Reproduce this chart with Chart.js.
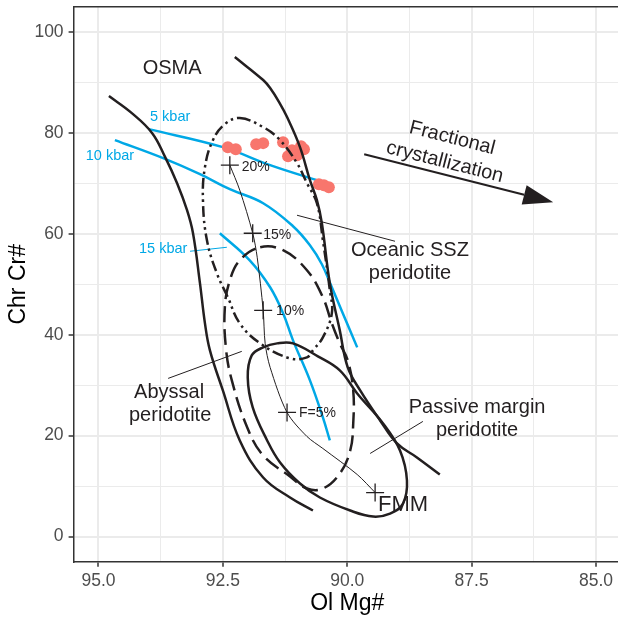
<!DOCTYPE html>
<html>
<head>
<meta charset="utf-8">
<script src="https://cdn.jsdelivr.net/npm/chart.js@4.4.0/dist/chart.umd.min.js"></script>
<style>
  html, body { margin: 0; padding: 0; background: #fff; overflow: hidden; }
  #wrap { width: 618px; height: 617px; overflow: hidden; }
  canvas { display: block; }
</style>
</head>
<body>
<div id="wrap"><canvas id="chart" width="625" height="617"></canvas></div>
<script>
// axis breaks
const xMajor = [85, 87.5, 90, 92.5, 95];
const xMajorLabels = ['85.0', '87.5', '90.0', '92.5', '95.0'];
const xMinor = [86.25, 88.75, 91.25, 93.75];
const yMajor = [0, 20, 40, 60, 80, 100];
const yMinor = [10, 30, 50, 70, 90];

// field boundaries, [Ol Mg#, Chr Cr#]
const osmaLeft = [[94.79, 87.30], [94.33, 83.93], [93.92, 79.96], [93.66, 75.20], [93.42, 70.04],
  [93.22, 64.68], [93.10, 60.12], [92.96, 50.20], [92.86, 42.26], [92.76, 36.91], [92.50, 28.97],
  [92.16, 19.05], [91.69, 11.71], [91.15, 7.74], [90.69, 5.16]];
const osmaRight = [[92.26, 95.04], [91.69, 90.48], [91.55, 88.89], [91.37, 86.11], [91.21, 83.14],
  [90.95, 77.18], [90.75, 70.64], [90.61, 66.67], [90.51, 62.10], [90.35, 50.20], [90.15, 40.87],
  [89.99, 33.53], [89.74, 28.97], [89.34, 23.02], [89.00, 18.45], [88.60, 15.68], [88.14, 12.30]];
// closed outlines (first point not repeated)
const sszField = [[92.16, 82.94], [91.69, 81.15], [91.35, 78.57], [91.01, 74.01], [90.81, 70.04],
  [90.61, 66.07], [90.49, 58.73], [90.35, 48.81], [90.31, 44.25], [90.49, 39.48], [90.69, 36.91],
  [90.81, 35.52], [91.15, 35.32], [91.75, 38.29], [92.16, 42.26], [92.40, 47.42], [92.62, 52.18],
  [92.82, 58.73], [92.90, 66.67], [92.86, 73.22], [92.70, 78.57], [92.46, 81.75]];
const abyssalField = [[91.75, 57.34], [91.29, 56.75], [90.81, 52.78], [90.49, 47.42], [90.31, 42.26],
  [90.15, 38.29], [89.99, 34.92], [89.88, 28.97], [89.88, 22.42], [89.94, 17.06], [90.15, 12.50],
  [90.49, 9.52], [90.81, 9.52], [91.15, 11.91], [91.69, 16.07], [92.01, 21.63], [92.32, 30.95],
  [92.44, 37.50], [92.46, 45.44], [92.36, 50.79], [92.16, 54.76]];
const passiveField = [[91.41, 38.29], [91.09, 38.29], [90.59, 35.72], [90.15, 32.94], [89.80, 28.37],
  [89.28, 22.42], [88.94, 17.06], [88.80, 11.11], [88.88, 6.55], [89.14, 4.56], [89.48, 3.97],
  [89.94, 5.16], [90.55, 7.74], [90.95, 10.52], [91.35, 14.68], [91.61, 19.05], [91.90, 25.60],
  [92.00, 31.55], [91.92, 35.91], [91.69, 37.50]];

// melting trends at different pressures
const kbar5 = [[93.99, 80.75], [92.50, 77.18], [91.55, 73.61], [90.55, 70.44]];
const kbar10 = [[94.67, 78.57], [93.70, 75.00], [92.96, 71.83], [92.36, 68.85], [91.69, 66.07],
  [91.09, 61.51], [90.75, 57.74], [90.51, 53.97], [90.31, 49.41], [90.09, 44.25], [89.80, 37.50]];
const kbar15 = [[92.56, 60.12], [91.96, 54.76], [91.55, 49.41], [91.29, 44.25], [91.09, 38.89],
  [90.75, 30.95], [90.49, 23.61], [90.35, 19.05]];

// FMM partial melting path and its marks
const meltPath = [[89.44, 8.73], [89.80, 12.30], [90.49, 17.46], [90.81, 19.84], [91.21, 24.60],
  [91.55, 33.53], [91.65, 38.29], [91.69, 44.84], [91.81, 55.36], [91.90, 60.12], [92.16, 68.65],
  [92.36, 73.61]];
const meltMarks = [[92.36, 73.61], [91.90, 60.12], [91.69, 44.84], [91.21, 24.60], [89.44, 8.73]];

// chromian spinel samples
const samples = [[92.40, 77.18], [92.24, 76.78], [91.83, 77.78], [91.69, 77.98], [91.29, 78.17],
  [91.19, 75.40], [91.11, 76.59], [91.01, 75.60], [90.93, 77.38], [90.87, 76.78],
  [90.57, 69.84], [90.47, 69.64], [90.37, 69.25]];

// annotations
const fieldText = [
  { text: 'OSMA', x: 93.52, y: 92.86 },
  { text: 'Oceanic SSZ', x: 88.74, y: 56.75 },
  { text: 'peridotite', x: 88.74, y: 52.18 },
  { text: 'Abyssal', x: 93.58, y: 28.57 },
  { text: 'peridotite', x: 93.56, y: 24.01 },
  { text: 'Passive margin', x: 87.39, y: 25.60 },
  { text: 'peridotite', x: 87.39, y: 21.03 }
];
const pressureText = [
  { text: '5 kbar', x: 93.56, y: 83.14 },
  { text: '10 kbar', x: 94.77, y: 75.40 },
  { text: '15 kbar', x: 93.70, y: 56.95 }
];
const meltText = [
  { text: '20%', x: 92.12, y: 73.22 },
  { text: '15%', x: 91.69, y: 59.72 },
  { text: '10%', x: 91.43, y: 44.64 },
  { text: 'F=5%', x: 90.97, y: 24.41 }
];
const fmmText = { text: 'FMM', x: 89.38, y: 6.35 };
const leaders = [
  [[91.01, 63.69], [89.04, 58.53]],
  [[93.60, 31.35], [92.12, 36.71]],
  [[89.54, 16.47], [88.48, 22.82]]
];
const kbarLeader = [[93.16, 56.55], [92.42, 57.34]];
const trendArrow = [[89.66, 75.79], [85.86, 66.27]];
const trendText = [
  { text: 'Fractional', x: 87.89, y: 78.97 },
  { text: 'crystallization', x: 88.04, y: 74.21 }
];

const INK = '#231f20';
const BLUE = '#00a8e6';
const PINK = '#f8766d';
const FONT = "'Liberation Sans', Arial, Helvetica, sans-serif";

const toXY = pts => pts.map(([x, y]) => ({ x, y }));

function curve(pts, opts) {
  return Object.assign({
    data: toXY(pts),
    showLine: true,
    pointRadius: 0,
    pointHoverRadius: 0,
    borderColor: INK,
    borderWidth: 2.5,
    tension: 0.4,
    fill: false
  }, opts);
}

// closed smooth outline: pad with neighbours, hide the two padding segments
function ring(pts, opts) {
  const n = pts.length;
  const ds = curve([pts[n - 1], ...pts, pts[0], pts[1]], opts);
  const color = ds.borderColor;
  ds.segment = {
    borderColor: c => (c.p0DataIndex === 0 || c.p0DataIndex === n + 1) ? 'rgba(0,0,0,0)' : color
  };
  return ds;
}

const isMajor = (list, v) => list.some(m => Math.abs(m - v) < 1e-6);

// drop the label overhang Chart.js reserves so the panel sits where ggplot put it
function noPad(s) {
  s.paddingTop = 0;
  s.paddingBottom = 0;
  s.paddingLeft = 0;
  s.paddingRight = 0;
}

const annotate = {
  id: 'annotate',
  afterDatasetsDraw(chart) {
    const { ctx, chartArea, scales: { x, y } } = chart;
    const px = p => x.getPixelForValue(p.x);
    const py = p => y.getPixelForValue(p.y);

    ctx.save();
    ctx.textBaseline = 'middle';

    ctx.fillStyle = INK;
    ctx.textAlign = 'center';
    ctx.font = `20px ${FONT}`;
    fieldText.forEach(t => ctx.fillText(t.text, px(t), py(t)));

    ctx.fillStyle = BLUE;
    ctx.font = `14.5px ${FONT}`;
    pressureText.forEach(t => ctx.fillText(t.text, px(t), py(t)));

    ctx.fillStyle = INK;
    ctx.textAlign = 'left';
    ctx.font = `14px ${FONT}`;
    meltText.forEach(t => ctx.fillText(t.text, px(t), py(t)));
    ctx.font = `22px ${FONT}`;
    ctx.fillText(fmmText.text, px(fmmText), py(fmmText));

    // fractional crystallization arrow
    const [a, b] = trendArrow.map(([vx, vy]) => ({ x: x.getPixelForValue(vx), y: y.getPixelForValue(vy) }));
    const ang = Math.atan2(b.y - a.y, b.x - a.x);
    const headLen = 30, headHalf = 10;
    const bx = b.x - headLen * Math.cos(ang), by = b.y - headLen * Math.sin(ang);
    ctx.strokeStyle = INK;
    ctx.lineWidth = 2;
    ctx.beginPath();
    ctx.moveTo(a.x, a.y);
    ctx.lineTo(bx, by);
    ctx.stroke();
    ctx.beginPath();
    ctx.moveTo(b.x, b.y);
    ctx.lineTo(bx + headHalf * Math.sin(ang), by - headHalf * Math.cos(ang));
    ctx.lineTo(bx - headHalf * Math.sin(ang), by + headHalf * Math.cos(ang));
    ctx.closePath();
    ctx.fillStyle = INK;
    ctx.fill();

    ctx.textAlign = 'center';
    ctx.font = `20px ${FONT}`;
    trendText.forEach(t => {
      ctx.save();
      ctx.translate(px(t), py(t));
      ctx.rotate(ang);
      ctx.fillText(t.text, 0, 0);
      ctx.restore();
    });

    // panel border top
    ctx.strokeStyle = '#333333';
    ctx.lineWidth = 1.5;
    ctx.beginPath();
    ctx.moveTo(chartArea.left, chartArea.top);
    ctx.lineTo(chartArea.right + 2, chartArea.top);
    ctx.stroke();
    ctx.restore();
  }
};

const datasets = [
  {
    data: toXY(meltMarks),
    pointStyle: 'cross',
    pointRadius: 9,
    pointHoverRadius: 9,
    borderColor: INK,
    borderWidth: 1.3,
    showLine: false
  },
  curve(meltPath, { borderWidth: 1, tension: 0.3 }),
  ...leaders.map(l => curve(l, { borderWidth: 1, tension: 0 })),
  curve(osmaLeft),
  curve(osmaRight),
  ring(sszField, { borderDash: [11, 4, 2.5, 4, 2.5, 4] }),
  ring(abyssalField, { borderDash: [16, 7] }),
  ring(passiveField),
  {
    data: toXY(samples),
    pointRadius: 6,
    pointHoverRadius: 6,
    backgroundColor: PINK,
    borderWidth: 0,
    showLine: false
  },
  curve(kbarLeader, { borderColor: BLUE, borderWidth: 1, tension: 0 }),
  curve(kbar5, { borderColor: BLUE }),
  curve(kbar10, { borderColor: BLUE }),
  curve(kbar15, { borderColor: BLUE })
];

const tickFont = { family: FONT, size: 17.5 };
const titleFont = { family: FONT, size: 23 };

new Chart(document.getElementById('chart'), {
  type: 'scatter',
  data: { datasets },
  options: {
    responsive: false,
    animation: false,
    events: [],
    // no extra room for point overflow, the panel edges are fixed below
    layout: { autoPadding: false, padding: { top: 6.8, right: 4.1, left: 0, bottom: 0 } },
    plugins: { legend: { display: false }, tooltip: { enabled: false } },
    scales: {
      x: {
        type: 'linear',
        reverse: true,
        min: 84.5,
        max: 95.5,
        afterBuildTicks: s => { s.ticks = [...xMajor, ...xMinor].sort((p, q) => p - q).map(v => ({ value: v })); },
        afterFit: s => { s.height = 55.2; noPad(s); },
        ticks: {
          autoSkip: false,
          maxRotation: 0,
          padding: 4,
          color: '#4d4d4d',
          font: tickFont,
          callback: v => { const i = xMajor.findIndex(m => Math.abs(m - v) < 1e-6); return i >= 0 ? xMajorLabels[i] : ''; }
        },
        grid: {
          color: '#ebebeb',
          lineWidth: c => isMajor(xMajor, c.tick.value) ? 2 : 1,
          tickColor: c => isMajor(xMajor, c.tick.value) ? '#333333' : 'rgba(0,0,0,0)',
          tickWidth: 1.5,
          tickLength: 5
        },
        border: { display: true, color: '#333333', width: 1.5 },
        title: { display: true, text: 'Ol Mg#', color: '#000', font: titleFont, padding: { top: 1, bottom: 0 } }
      },
      y: {
        type: 'linear',
        min: -5,
        max: 105,
        afterBuildTicks: s => { s.ticks = [...yMajor, ...yMinor].sort((p, q) => p - q).map(v => ({ value: v })); },
        afterFit: s => { s.width = 73.6; noPad(s); },
        ticks: {
          autoSkip: false,
          padding: 5,
          color: '#4d4d4d',
          font: tickFont,
          callback: v => isMajor(yMajor, v) ? String(v) : ''
        },
        grid: {
          color: '#ebebeb',
          lineWidth: c => isMajor(yMajor, c.tick.value) ? 2 : 1,
          tickColor: c => isMajor(yMajor, c.tick.value) ? '#333333' : 'rgba(0,0,0,0)',
          tickWidth: 1.5,
          tickLength: 5
        },
        border: { display: true, color: '#333333', width: 1.5 },
        title: { display: true, text: 'Chr Cr#', color: '#000', font: titleFont, padding: { top: 4.5, bottom: 0 } }
      }
    }
  },
  plugins: [annotate]
});
</script>
</body>
</html>
